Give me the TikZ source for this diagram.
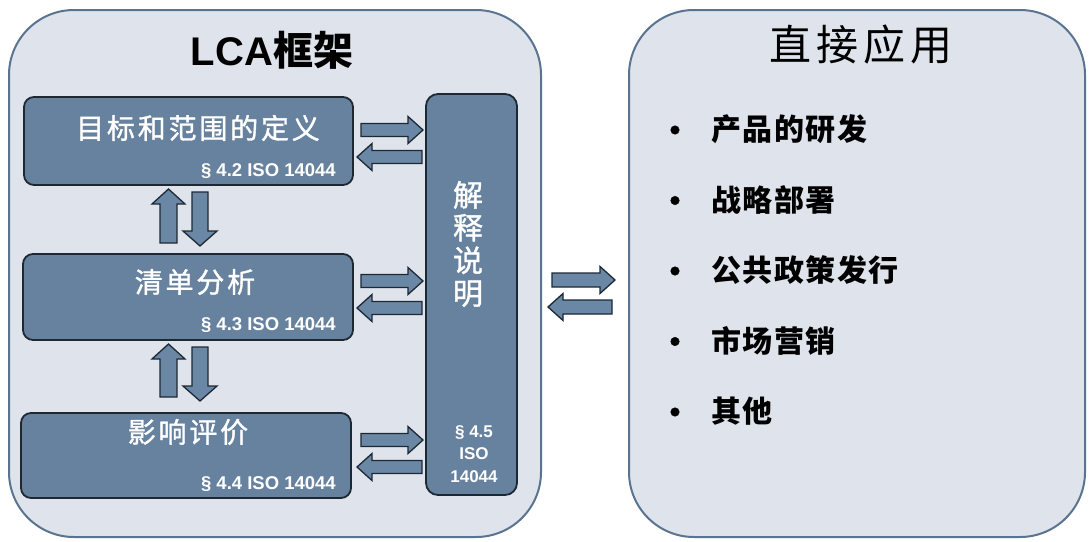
\documentclass[tikz,border=0pt]{standalone}
\usepackage{fontspec}
\setmainfont{Liberation Sans}
\newfontfamily\cjk{Noto Sans CJK SC}
\newfontfamily\cjkfb[FakeBold=1.2]{Noto Sans CJK SC}
\newfontfamily\cjksp[LetterSpace=10,FakeBold=1.2]{Noto Sans CJK SC}
\newfontfamily\cjkitem[LetterSpace=5]{Noto Sans CJK SC}
\newfontfamily\cjktitle[LetterSpace=12]{Noto Sans CJK SC}
\usetikzlibrary{calc}
\definecolor{bigfill}{HTML}{DFE4EC}
\definecolor{bigline}{HTML}{5A7490}
\definecolor{boxfill}{HTML}{67829F}
\definecolor{boxline}{HTML}{1E2833}
\definecolor{arrfill}{HTML}{6A87A6}
\def\shaftw{6.5}\def\headw{13.5}\def\headl{15}
\tikzset{
  shaftw/.code={\def\shaftw{#1}},
  headw/.code={\def\headw{#1}},
  headl/.code={\def\headl{#1}},
}
\begin{document}
\begin{tikzpicture}[x=1pt,y=-1pt,
  bigbox/.style={draw=bigline, line width=2pt, fill=bigfill, rounded corners=65pt, inner sep=0pt},
  stage/.style={draw=boxline, line width=1.8pt, fill=boxfill, rounded corners=10pt, inner sep=0pt},
  stagetext/.style={text=white, font=\cjksp\fontsize{28}{30}\selectfont, inner sep=0pt},
  reftext/.style={text=white, font=\bfseries\fontsize{18.5}{20}\selectfont, inner sep=0pt, anchor=base east},
  itemtext/.style={font=\cjkitem\bfseries\fontsize{30}{32}\selectfont, inner sep=0pt, anchor=west},
  bullet/.style={circle, fill=black, draw=black, line width=0.5pt, inner sep=0pt, minimum size=8.5pt},
  blk/.style={draw=boxline, line width=1.3pt, fill=arrfill, line join=miter,
    to path={
      ($(\tikztostart)!\shaftw pt!90:(\tikztotarget)$) --
      ($($(\tikztotarget)!\headl pt!(\tikztostart)$)!\shaftw pt!90:(\tikztotarget)$) --
      ($($(\tikztotarget)!\headl pt!(\tikztostart)$)!\headw pt!90:(\tikztotarget)$) --
      (\tikztotarget) --
      ($($(\tikztotarget)!\headl pt!(\tikztostart)$)!\headw pt!-90:(\tikztotarget)$) --
      ($($(\tikztotarget)!\headl pt!(\tikztostart)$)!\shaftw pt!-90:(\tikztotarget)$) --
      ($(\tikztostart)!\shaftw pt!-90:(\tikztotarget)$) -- cycle}}
]
\useasboundingbox (0,0) rectangle (1089,541);
\fill[white] (0,0) rectangle (1089,541);

% big frames
\node[bigbox, minimum width=532pt, minimum height=527pt] (lca) at (275,273.5) {};
\node[bigbox, minimum width=456pt, minimum height=527pt] (app) at (857,273.5) {};

\node[inner sep=0pt, font=\bfseries\fontsize{40}{44}\selectfont] (lcat) at (272,50) {LCA{\cjk 框架}};
\node[inner sep=0pt, font=\cjktitle\fontsize{42}{46}\selectfont] (appt) at (861,45) {直接应用};

% stage boxes
\node[stage, minimum width=329pt, minimum height=88pt] (b1) at (188.5,141) {};
\node[stage, minimum width=330pt, minimum height=86pt] (b2) at (188,297) {};
\node[stage, minimum width=330pt, minimum height=85pt] (b3) at (186,455.5) {};
\node[stage, minimum width=91pt, minimum height=401pt, rounded corners=12pt] (interp) at (471.5,294.5) {};

\node[stagetext] (t1) at (198,128) {目标和范围的定义};
\node[stagetext] (t2) at (195,282) {清单分析};
\node[stagetext] (t3) at (188,432) {影响评价};
\node[reftext] (r1) at (336,176.5) {§ 4.2 ISO 14044};
\node[reftext] (r2) at (336,330.5) {§ 4.3 ISO 14044};
\node[reftext] (r3) at (336,489.5) {§ 4.4 ISO 14044};

\node[text=white, inner sep=0pt, align=center, font=\cjkfb\fontsize{30}{32.7}\selectfont] (it) at (468,244) {解\\释\\说\\明};
\node[text=white, inner sep=0pt, align=center, font=\bfseries\fontsize{17}{22.5}\selectfont] (ir) at (474,454) {§ 4.5\\ISO\\14044};

% horizontal arrows stage <-> interpretation
\coordinate (a1s) at (361,130); \coordinate (a1t) at (423,130);
\coordinate (a2s) at (422,157); \coordinate (a2t) at (357,157);
\coordinate (a3s) at (361,281); \coordinate (a3t) at (423,281);
\coordinate (a4s) at (422,308); \coordinate (a4t) at (357,308);
\coordinate (a5s) at (361,440); \coordinate (a5t) at (423,440);
\coordinate (a6s) at (422,467); \coordinate (a6t) at (357,467);
\foreach \k in {1,...,6} { \draw[blk] (a\k s) to (a\k t); }

% middle arrows
\coordinate (m1s) at (552,280); \coordinate (m1t) at (615,280);
\coordinate (m2s) at (612,307); \coordinate (m2t) at (548,307);
\draw[blk, shaftw=7] (m1s) to (m1t);
\draw[blk, shaftw=7] (m2s) to (m2t);

% vertical arrows
\coordinate (u1s) at (168.5,243); \coordinate (u1t) at (168.5,189);
\coordinate (d1s) at (200,192); \coordinate (d1t) at (200,246);
\coordinate (u2s) at (168.5,397); \coordinate (u2t) at (168.5,344);
\coordinate (d2s) at (200,347); \coordinate (d2t) at (200,401);
\draw[blk, shaftw=8.5, headw=16.5] (u1s) to (u1t);
\draw[blk, shaftw=8, headw=17] (d1s) to (d1t);
\draw[blk, shaftw=8.5, headw=16.5] (u2s) to (u2t);
\draw[blk, shaftw=8, headw=17] (d2s) to (d2t);

% application list
\node[bullet] (p1) at (675,130) {};
\node[bullet] (p2) at (675,200.5) {};
\node[bullet] (p3) at (675,271) {};
\node[bullet] (p4) at (675,341.5) {};
\node[bullet] (p5) at (675,412) {};
\node[itemtext] (i1) at (711,129) {产品的研发};
\node[itemtext] (i2) at (711,199.5) {战略部署};
\node[itemtext] (i3) at (711,270) {公共政策发行};
\node[itemtext] (i4) at (711,340.5) {市场营销};
\node[itemtext] (i5) at (711,411) {其他};
\end{tikzpicture}
\end{document}
